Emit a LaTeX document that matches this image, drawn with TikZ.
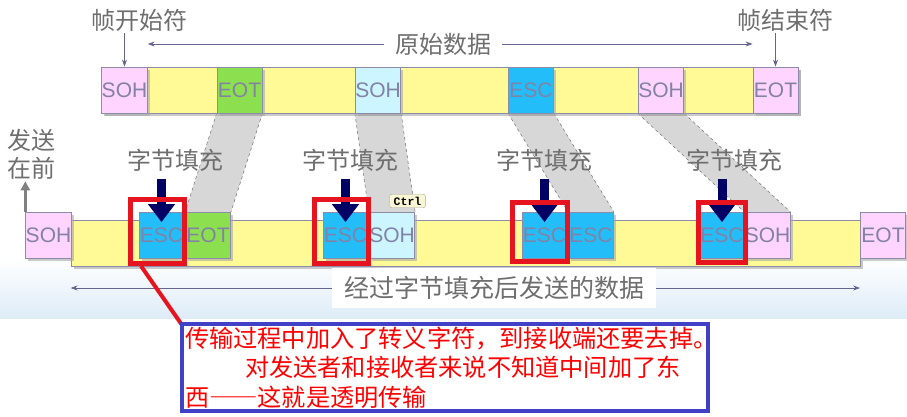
\documentclass[tikz,border=0pt]{standalone}
\usepackage{fontspec}
\setmainfont{Liberation Sans}
\setmonofont{Liberation Mono}
\newfontfamily\cjk{Noto Sans CJK SC}
\usepackage{tikz}
\usetikzlibrary{arrows.meta,backgrounds,shadows}

\definecolor{sohpink}{RGB}{255,212,255}
\definecolor{sohcyan}{RGB}{205,245,255}
\definecolor{baryellow}{RGB}{255,250,150}
\definecolor{eotgreen}{RGB}{140,224,80}
\definecolor{escblue}{RGB}{35,190,250}
\definecolor{boxline}{RGB}{140,140,170}
\definecolor{boxtext}{RGB}{130,130,165}
\definecolor{lblgray}{RGB}{110,110,110}
\definecolor{arrgray}{RGB}{100,100,140}
\definecolor{navyfill}{RGB}{0,0,100}
\definecolor{markred}{RGB}{230,20,30}
\definecolor{noteblue}{RGB}{65,65,200}
\definecolor{bandgray}{RGB}{215,215,215}
\definecolor{skyback}{RGB}{222,236,247}
\definecolor{tipyellow}{RGB}{250,245,210}

\tikzset{
  cellshadow/.style={drop shadow={shadow xshift=2.5pt,shadow yshift=-2.5pt,fill=black!35,opacity=.6}},
  cell/.style={draw=boxline, line width=0.8pt, minimum width=45pt, minimum height=46pt, inner sep=0pt,
    font=\fontsize{21}{21}\selectfont, text=boxtext, cellshadow},
  sohcell/.style={cell, fill=sohpink},
  sohccell/.style={cell, fill=sohcyan},
  eotcell/.style={cell, fill=eotgreen},
  eotpcell/.style={cell, fill=sohpink},
  esccell/.style={cell, fill=escblue},
  framebar/.style={draw=boxline, line width=0.8pt, fill=baryellow, minimum height=46pt, inner sep=0pt, cellshadow},
  lbl/.style={font=\cjk\fontsize{24}{28}\selectfont, text=lblgray, inner sep=2pt},
  lblarrow/.style={draw=arrgray, line width=0.8pt, -{Stealth[length=7pt,width=5pt]}},
  fillarrow/.style={draw=navyfill, line width=9pt, -{Triangle[length=18pt,width=26pt]}},
  sendarrow/.style={draw=gray, line width=3pt, -{Triangle[length=9pt,width=9pt]}},
  bandedge/.style={draw=gray, dashed, line width=0.6pt},
  markbox/.style={draw=markred, line width=5pt, inner sep=0pt},
  notebox/.style={draw=noteblue, line width=4pt, fill=white, inner xsep=3pt, inner ysep=0pt,
    minimum width=526pt, minimum height=87pt, text width=520pt, align=left,
    font=\cjk\fontsize{24.2}{29.5}\selectfont, text=red},
}

\begin{document}
\begin{tikzpicture}[x=1pt,y=-1pt]
                      \useasboundingbox (0,0) rectangle (907,416);

                      \node[framebar, minimum width=696pt] (rawbar) at (450,90) {};
                      \node[sohcell] (tsoh1) at (124.5,90) {SOH};
                      \node[eotcell] (teot1) at (239.5,90) {EOT};
                      \node[sohccell] (tsoh2) at (378,90) {SOH};
                      \node[esccell] (tesc) at (531,90) {ESC};
                      \node[sohcell] (tsoh3) at (661,90) {SOH};
                      \node[eotpcell] (teot2) at (775.5,90) {EOT};

                      \node[lbl] (startlbl) at (139,20) {帧开始符};
                      \node[lbl] (endlbl) at (785,20) {帧结束符};
                      \node[lbl, inner xsep=11pt] (rawlbl) at (443,44) {原始数据};
                      \draw[lblarrow] (tsoh1.north |- startlbl.south) -- (tsoh1.north);
                      \draw[lblarrow] (teot2.north |- endlbl.south) -- (teot2.north);
                      \draw[lblarrow] (rawlbl.west) -- (rawlbl.west -| tsoh1.east);
                      \draw[lblarrow] (rawlbl.east) -- (rawlbl.east -| teot2.west);

                      \node[framebar, minimum width=789pt] (sendbar) at (465.5,243) {};
                      \node[sohcell] (bsoh1) at (48.5,235.5) {SOH};
                      \node[esccell] (besc1) at (161.5,235.5) {ESC};
                      \node[eotcell] (beot1) at (208,235.5) {EOT};
                      \node[esccell] (besc2) at (345.5,235.5) {ESC};
                      \node[sohccell] (bsoh2) at (392,235.5) {SOH};
                      \node[esccell] (besc3) at (544.5,235.5) {ESC};
                      \node[esccell] (besc4) at (591,235.5) {ESC};
                      \node[esccell] (besc5) at (722,235.5) {ESC};
                      \node[sohcell] (bsoh3) at (767.5,235.5) {SOH};
                      \node[eotpcell] (beot2) at (883,235.5) {EOT};

                      \node[lbl, align=center] (sendfirst) at (31,154) {发送\\在前};
                      \draw[sendarrow] (bsoh1.north west) -- (bsoh1.north west |- sendfirst.south);

                      \node[lbl] (fill1) at (175,160) {字节填充};
                      \node[lbl] (fill2) at (350,160) {字节填充};
                      \node[lbl] (fill3) at (544,160) {字节填充};
                      \node[lbl] (fill4) at (734,160) {字节填充};
                      \draw[fillarrow, shorten <=6pt] (besc1.north |- fill1.south) -- ([yshift=-10pt]besc1.north);
                      \draw[fillarrow, shorten <=6pt] (besc2.north |- fill2.south) -- ([yshift=-10pt]besc2.north);
                      \draw[fillarrow, shorten <=6pt] (besc3.north |- fill3.south) -- ([yshift=-10pt]besc3.north);
                      \draw[fillarrow, shorten <=6pt] (besc5.north |- fill4.south) -- ([yshift=-10pt]besc5.north);

                      \node[markbox, minimum width=54pt, minimum height=64pt] (mark1) at (157.5,231.5) {};
                      \node[markbox, minimum width=54pt, minimum height=64pt] (mark2) at (341.5,231.5) {};
                      \node[markbox, minimum width=55pt, minimum height=59pt] (mark3) at (540,232) {};
                      \node[markbox, minimum width=47pt, minimum height=60pt] (mark4) at (722,232.5) {};

                      \node[draw=gray!70, fill=tipyellow, rounded corners=2pt, inner xsep=4pt, inner ysep=2.5pt,
                        font=\ttfamily\bfseries\fontsize{11.5}{11.5}\selectfont] (ctrl) at (407.5,201) {Ctrl};

                      \node[lbl, fill=white, minimum width=324pt, minimum height=40pt, font=\cjk\fontsize{25}{25}\selectfont] (stuffed) at (494,288) {经过字节填充后发送的数据};
                      \draw[lblarrow] (stuffed.west) -- (stuffed.west -| sendbar.west);
                      \draw[lblarrow] (stuffed.east) -- (stuffed.east -| beot2.west);

                      \draw[markred, line width=4pt] ([xshift=13pt]mark1.south west) -- (182,325);
                      \node[notebox] (note) at (445,367.5) {传输过程中加入了转义字符，到接收端还要去掉。\\\hspace*{60pt}对发送者和接收者来说不知道中间加了东\\西{\addfontfeature{RawFeature=+fwid}——}这就是透明传输};

                      \begin{scope}[on background layer]
                        \shade[top color=white, bottom color=skyback] (0,258) rectangle (907,318);
                        \fill[bandgray] (teot1.south west) -- (teot1.south east) -- (beot1.north east) -- (beot1.north west) -- cycle;
                        \draw[bandedge] (teot1.south west) -- (beot1.north west);
                        \draw[bandedge] (teot1.south east) -- (beot1.north east);
                        \fill[bandgray] (tsoh2.south west) -- (tsoh2.south east) -- (bsoh2.north east) -- (bsoh2.north west) -- cycle;
                        \draw[bandedge] (tsoh2.south west) -- (bsoh2.north west);
                        \draw[bandedge] (tsoh2.south east) -- (bsoh2.north east);
                        \fill[bandgray] (tesc.south west) -- (tesc.south east) -- (besc4.north east) -- (besc4.north west) -- cycle;
                        \draw[bandedge] (tesc.south west) -- (besc4.north west);
                        \draw[bandedge] (tesc.south east) -- (besc4.north east);
                        \fill[bandgray] (tsoh3.south west) -- (tsoh3.south east) -- (bsoh3.north east) -- (bsoh3.north west) -- cycle;
                        \draw[bandedge] (tsoh3.south west) -- (bsoh3.north west);
                        \draw[bandedge] (tsoh3.south east) -- (bsoh3.north east);
                      \end{scope}
                  \end{tikzpicture}
\end{document}
